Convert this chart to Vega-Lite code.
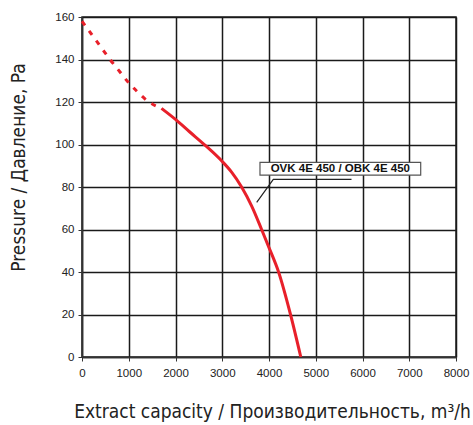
{
  "$schema": "https://vega.github.io/schema/vega-lite/v6.json",
  "width": 374,
  "height": 340,
  "autosize": {"type": "none"},
  "padding": {"left": 82, "top": 17, "right": 17, "bottom": 68},
  "background": "white",
  "config": {
    "view": {"stroke": "#222", "strokeWidth": 1.5},
    "axis": {
      "gridColor": "#1a1a1a", "gridOpacity": 1, "gridWidth": 1.5,
      "domainColor": "#333", "domainWidth": 1.5,
      "tickColor": "#333", "tickSize": 4, "labelFlush": false,
      "labelFont": "Liberation Sans", "labelFontSize": 11.5, "labelColor": "#222",
      "titleFont": "DejaVu Sans Condensed", "titleFontSize": 19, "titleFontWeight": "normal", "titleColor": "#222"
    }
  },
  "layer": [
    {
      "data": {"values": [
        {"q": 0, "p": 158}, {"q": 200, "p": 152}, {"q": 400, "p": 146}, {"q": 600, "p": 140},
        {"q": 800, "p": 134.5}, {"q": 1000, "p": 129}, {"q": 1200, "p": 124.5}, {"q": 1400, "p": 120.5},
        {"q": 1700, "p": 117}
      ]},
      "mark": {"type": "line", "color": "#e8202a", "strokeWidth": 3, "strokeDash": [5, 7], "interpolate": "monotone"},
      "encoding": {
        "x": {"field": "q", "type": "quantitative", "scale": {"domain": [0, 8000]},
          "axis": {"values": [0,1000,2000,3000,4000,5000,6000,7000,8000], "format": "d", "title": "Extract capacity / Производительность, m³/h", "labelPadding": 6, "titleX": 190, "titleY": 54, "titleBaseline": "middle"}},
        "y": {"field": "p", "type": "quantitative", "scale": {"domain": [0, 160]},
          "axis": {"values": [0,20,40,60,80,100,120,140,160], "title": "Pressure / Давление, Pa", "labelPadding": 4, "titleX": -64, "titleY": 150, "titleBaseline": "middle", "titleAngle": -90}}
      }
    },
    {
      "data": {"values": [
        {"q": 1700, "p": 117}, {"q": 2000, "p": 111.8}, {"q": 2300, "p": 106}, {"q": 2630, "p": 99.7},
        {"q": 3000, "p": 92}, {"q": 3200, "p": 87}, {"q": 3414, "p": 80}, {"q": 3630, "p": 71},
        {"q": 3842, "p": 60}, {"q": 4000, "p": 51.5}, {"q": 4205, "p": 40}, {"q": 4460, "p": 20}, {"q": 4680, "p": 0}
      ]},
      "mark": {"type": "line", "color": "#e8202a", "strokeWidth": 3, "interpolate": "monotone"},
      "encoding": {
        "x": {"field": "q", "type": "quantitative"},
        "y": {"field": "p", "type": "quantitative"}
      }
    },
    {
      "data": {"values": [
        {"q": 5765, "p": 83.6, "o": 1}, {"q": 4092, "p": 83.6, "o": 2}, {"q": 3737, "p": 72.8, "o": 3}
      ]},
      "mark": {"type": "line", "color": "#222", "strokeWidth": 1.2},
      "encoding": {
        "x": {"field": "q", "type": "quantitative"},
        "y": {"field": "p", "type": "quantitative"},
        "order": {"field": "o"}
      }
    },
    {
      "data": {"values": [{"q1": 3807, "q2": 7245, "p1": 85.6, "p2": 91.6}]},
      "mark": {"type": "rect", "fill": "white", "stroke": "#555", "strokeWidth": 1.2},
      "encoding": {
        "x": {"field": "q1", "type": "quantitative"}, "x2": {"field": "q2"},
        "y": {"field": "p1", "type": "quantitative"}, "y2": {"field": "p2"}
      }
    },
    {
      "data": {"values": [{"q": 5526, "p": 88.6, "t": "OVK 4E 450 / OBK 4E 450"}]},
      "mark": {"type": "text", "font": "Liberation Sans", "fontSize": 11.5, "fontWeight": "bold", "color": "#111", "align": "center", "baseline": "middle"},
      "encoding": {
        "x": {"field": "q", "type": "quantitative"},
        "y": {"field": "p", "type": "quantitative"},
        "text": {"field": "t"}
      }
    }
  ]
}
